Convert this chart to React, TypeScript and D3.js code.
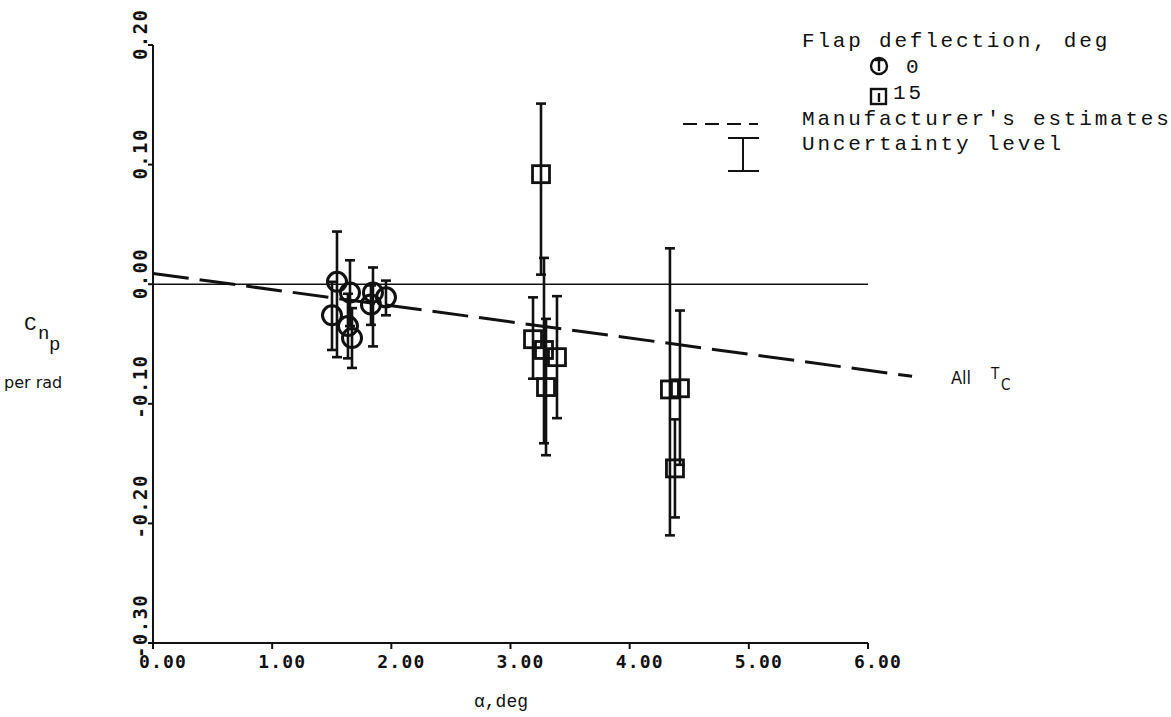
import React from "react";
import * as d3 from "d3";

// ---- data ----
const xTicks = [0, 1, 2, 3, 4, 5, 6];
const xTickLabels = ["0.00", "1.00", "2.00", "3.00", "4.00", "5.00", "6.00"];
const yTicks = [0.2, 0.1, 0.0, -0.1, -0.2, -0.3];
const yTickLabels = ["0.20", "0.10", "0.00", "-0.10", "-0.20", "-0.30"];

// flap deflection 0 deg (circles)
const flap0Alpha = [1.544, 1.502, 1.653, 1.636, 1.670, 1.846, 1.829, 1.955];
const flap0Cn = [0.002, -0.026, -0.007, -0.035, -0.045, -0.007, -0.017, -0.011];
const flap0Hi = [0.044, 0.002, 0.020, -0.008, -0.020, 0.014, -0.001, 0.003];
const flap0Lo = [-0.061, -0.055, -0.035, -0.062, -0.070, -0.052, -0.034, -0.026];

// flap deflection 15 deg (squares)
const flap15Alpha = [3.256, 3.189, 3.281, 3.390, 3.298, 4.338, 4.422, 4.380];
const flap15Cn = [0.092, -0.046, -0.055, -0.061, -0.086, -0.088, -0.087, -0.154];
const flap15Hi = [0.151, -0.011, 0.022, -0.010, -0.029, 0.030, -0.022, -0.113];
const flap15Lo = [0.008, -0.079, -0.133, -0.112, -0.143, -0.210, -0.151, -0.195];

// manufacturer's estimates (all Tc)
const estAlpha = [0, 6.37];
const estCn = [0.009, -0.077];

const refAlpha = [0, 6];
const refCn = [0, 0];

const W = 1171;
const H = 717;

export default function App() {
  const x = d3.scaleLinear().domain([0, 6]).range([153, 868]);
  const y = d3.scaleLinear().domain([-0.3, 0.2]).range([643, 45]);

  const line = d3
    .line<[number, number]>()
    .x((d) => x(d[0]))
    .y((d) => y(d[1]));

  const estPts: [number, number][] = estAlpha.map((a, i) => [a, estCn[i]]);
  const refPts: [number, number][] = refAlpha.map((a, i) => [a, refCn[i]]);

  const mono = "'Liberation Mono', 'Courier New', monospace";
  const tickFont = "'DejaVu Sans Mono', monospace";
  const capW = 5;
  const ink = "#111";

  const errBar = (a: number, hi: number, lo: number, key: string) => (
    <g key={key} stroke={ink} strokeWidth={2.6}>
      <line x1={x(a)} x2={x(a)} y1={y(hi)} y2={y(lo)} />
      <line x1={x(a) - capW} x2={x(a) + capW} y1={y(hi)} y2={y(hi)} />
      <line x1={x(a) - capW} x2={x(a) + capW} y1={y(lo)} y2={y(lo)} />
    </g>
  );

  return (
    <svg width={W} height={H} style={{ position: "absolute", left: 0, top: 0, background: "#fff" }}>
      <rect x={0} y={0} width={W} height={H} fill="#fff" />
      {/* axes */}
      <g stroke={ink} strokeWidth={2}>
        <line x1={x(0)} x2={x(0)} y1={y(0.2)} y2={y(-0.3)} />
        <line x1={x(0)} x2={x(6)} y1={y(-0.3)} y2={y(-0.3)} />
        {yTicks.map((t) => (
          <line key={"yt" + t} x1={x(0) - 5} x2={x(0)} y1={y(t)} y2={y(t)} />
        ))}
        {xTicks.map((t) => (
          <line key={"xt" + t} x1={x(t)} x2={x(t)} y1={y(-0.3)} y2={y(-0.3) + 6} />
        ))}
      </g>
      {/* tick labels */}
      <g fontFamily={tickFont} fontWeight="bold" fontSize={18} fill={ink} letterSpacing={1.2}>
        {xTicks.map((t, i) => (
          <text key={"xl" + t} x={x(t) - 14} y={668} textAnchor="start">
            {xTickLabels[i]}
          </text>
        ))}
      </g>
      <g fontFamily={tickFont} fontWeight="bold" fontSize={19} fill={ink} letterSpacing={1.4}>
        {yTicks.map((t, i) => (
          <text
            key={"yl" + t}
            transform={`translate(147,${y(t) + 15}) rotate(-90)`}
            textAnchor="start"
          >
            {yTickLabels[i]}
          </text>
        ))}
      </g>

      {/* zero reference line */}
      <path d={line(refPts) || ""} stroke={ink} strokeWidth={1.6} fill="none" />
      {/* manufacturer's estimates */}
      <path
        d={line(estPts) || ""}
        stroke={ink}
        strokeWidth={3}
        fill="none"
        strokeDasharray="36,11"
      />

      {/* error bars */}
      {flap0Alpha.map((a, i) => errBar(a, flap0Hi[i], flap0Lo[i], "e0" + i))}
      {flap15Alpha.map((a, i) => errBar(a, flap15Hi[i], flap15Lo[i], "e15" + i))}

      {/* markers */}
      {flap0Alpha.map((a, i) => (
        <circle
          key={"c" + i}
          cx={x(a)}
          cy={y(flap0Cn[i])}
          r={9.5}
          fill="none"
          stroke={ink}
          strokeWidth={3}
        />
      ))}
      {flap15Alpha.map((a, i) => (
        <rect
          key={"s" + i}
          x={x(a) - 8.5}
          y={y(flap15Cn[i]) - 8.5}
          width={17}
          height={17}
          fill="none"
          stroke={ink}
          strokeWidth={2.8}
        />
      ))}

      {/* All Tc label */}
      <g fontFamily="'DejaVu Sans Condensed', 'DejaVu Sans', sans-serif" fill={ink}>
        <text x={951} y={384} fontSize={18}>All</text>
        <text x={991} y={379} fontSize={15}>T</text>
        <text x={1001} y={390} fontSize={15}>C</text>
      </g>

      {/* y axis label */}
      <g fontFamily={mono} fill={ink}>
        <text x={24} y={330} fontSize={21}>C</text>
        <text x={38} y={339} fontSize={19}>n</text>
        <text x={49} y={350} fontSize={19}>p</text>
      </g>
      <text x={4} y={388} fontFamily="'DejaVu Sans', sans-serif" fontSize={16} fill={ink}>
        per rad
      </text>

      {/* x axis label */}
      <text x={474} y={707} fontFamily={mono} fontSize={18} fill={ink}>
        α,deg
      </text>

      {/* legend */}
      <g fontFamily={mono} fontSize={21} fill={ink} letterSpacing={2.8}>
        <text x={802} y={47}>Flap deflection, deg</text>
        <text x={906} y={73}>0</text>
        <text x={893} y={99}>15</text>
        <text x={802} y={125}>Manufacturer's estimates</text>
        <text x={802} y={150}>Uncertainty level</text>
      </g>
      <g stroke={ink} fill="none" strokeWidth={2.4}>
        <circle cx={879} cy={66} r={8} />
        <line x1={879} x2={879} y1={60} y2={71} />
        <line x1={875} x2={883} y1={60} y2={60} />
        <rect x={871} y={89} width={15} height={15} />
        <line x1={879} x2={879} y1={93} y2={102} />
      </g>
      <line x1={683} x2={758} y1={124} y2={124} stroke={ink} strokeWidth={2} strokeDasharray="14,8" />
      <g stroke={ink} strokeWidth={2}>
        <line x1={743} x2={743} y1={138} y2={171} />
        <line x1={728} x2={759} y1={138} y2={138} />
        <line x1={728} x2={759} y1={171} y2={171} />
      </g>
    </svg>
  );
}
